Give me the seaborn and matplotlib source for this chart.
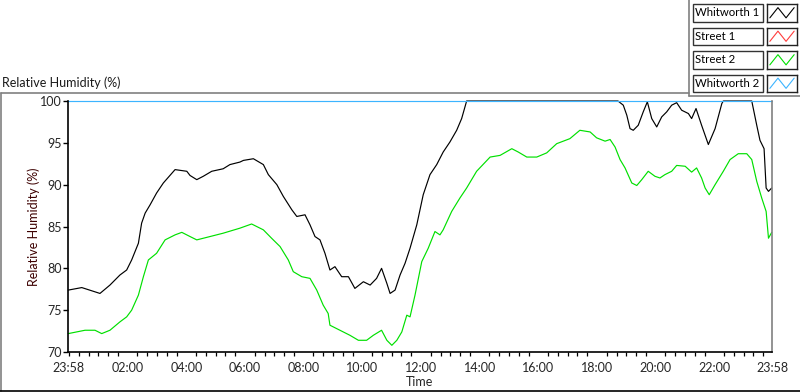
import numpy as np
import pandas as pd
import matplotlib
matplotlib.use("Agg")
import matplotlib.pyplot as plt
import matplotlib.dates as mdates
import matplotlib.ticker as mticker
import seaborn as sns
from matplotlib.lines import Line2D
from matplotlib.patches import Rectangle

# ---------------- data (hours after 23:58, relative humidity %) ----------------
series_names = ["Whitworth 1", "Street 1", "Street 2", "Whitworth 2"]

w1_hours = [0.01, 0.47, 1.09, 1.43, 1.77, 2.00, 2.17, 2.40, 2.51, 2.63, 2.80, 3.02, 3.25, 3.65,
            4.05, 4.16, 4.39, 4.61, 4.90, 5.29, 5.52, 5.86, 5.98, 6.32, 6.66, 6.83, 7.12, 7.34,
            7.63, 7.80, 8.08, 8.25, 8.42, 8.59, 8.76, 8.93, 9.10, 9.33, 9.56, 9.78, 10.07, 10.30,
            10.52, 10.69, 10.87, 10.98, 11.15, 11.32, 11.49, 11.66, 11.89, 12.11, 12.34, 12.57,
            12.79, 13.02, 13.25, 13.42, 13.59, 18.75, 18.93, 19.05, 19.16, 19.27, 19.44, 19.61,
            19.75, 19.90, 20.07, 20.24, 20.41, 20.58, 20.75, 20.92, 21.15, 21.26, 21.41, 21.60,
            21.83, 22.06, 22.29, 22.34, 23.31, 23.48, 23.59, 23.73, 23.80, 23.88, 23.99]
w1_rh = [77.4, 77.7, 77.0, 78.0, 79.2, 79.8, 81.0, 83.0, 85.4, 86.6, 87.6, 89.0, 90.2, 91.8,
         91.6, 91.1, 90.6, 91.0, 91.6, 91.9, 92.4, 92.7, 92.9, 93.1, 92.4, 91.2, 90.0, 88.6,
         87.0, 86.2, 86.4, 85.2, 83.8, 83.4, 81.8, 79.8, 80.2, 79.0, 79.0, 77.6, 78.4, 78.0,
         78.8, 80.0, 78.2, 77.0, 77.4, 79.2, 80.6, 82.4, 85.2, 88.8, 91.2, 92.4,
         93.9, 95.1, 96.5, 97.9, 100.0, 100.0, 99.5, 98.3, 96.7, 96.5, 97.1, 98.7,
         99.9, 97.9, 96.9, 98.1, 98.7, 99.5, 99.8, 98.9, 98.5, 97.9, 99.1, 97.1,
         94.8, 96.7, 99.7, 100.0, 100.0, 97.1, 95.3, 94.3, 89.6, 89.2, 89.6]

s1_hours = []
s1_rh = []

s2_hours = [0.01, 0.58, 0.92, 1.15, 1.43, 1.77, 2.00, 2.17, 2.40, 2.57, 2.74, 3.02, 3.31, 3.65,
            3.88, 4.16, 4.39, 4.73, 5.29, 5.86, 6.26, 6.66, 6.94, 7.23, 7.51, 7.68, 7.97, 8.25,
            8.48, 8.70, 8.87, 8.93, 9.27, 9.61, 9.90, 10.18, 10.41, 10.69, 10.87, 11.04, 11.21,
            11.38, 11.55, 11.66, 11.83, 12.06, 12.28, 12.51, 12.68, 12.79, 13.08, 13.36, 13.59,
            13.93, 14.39, 14.73, 15.13, 15.35, 15.64, 15.98, 16.32, 16.66, 17.11, 17.45, 17.80,
            18.02, 18.31, 18.48, 18.65, 18.82, 18.99, 19.22, 19.39, 19.56, 19.78, 20.01, 20.18,
            20.35, 20.58, 20.75, 21.04, 21.26, 21.43, 21.60, 21.72, 21.86, 22.06, 22.34, 22.57,
            22.85, 23.14, 23.31, 23.48, 23.65, 23.80, 23.88, 23.99]
s2_rh = [72.2, 72.6, 72.6, 72.2, 72.6, 73.6, 74.2, 75.0, 76.8, 79.0, 81.0, 81.8, 83.4, 84.0,
         84.3, 83.8, 83.4, 83.7, 84.2, 84.8, 85.3, 84.6, 83.6, 82.6, 81.0, 79.6, 79.0, 78.8,
         77.4, 75.6, 74.6, 73.2, 72.6, 72.0, 71.4, 71.4, 72.0, 72.6, 71.4, 70.8, 71.4,
         72.4, 74.4, 74.2, 76.8, 80.8, 82.4, 84.4, 84.0, 84.6, 86.8, 88.4, 89.6,
         91.6, 93.3, 93.5, 94.3, 93.9, 93.3, 93.3, 93.8, 94.9, 95.5, 96.5, 96.3,
         95.6, 95.2, 95.4, 94.5, 93.0, 92.0, 90.2, 89.9, 90.6, 91.6, 91.0, 90.8,
         91.2, 91.6, 92.3, 92.2, 91.5, 92.0, 90.8, 89.6, 88.8, 90.0, 91.6, 93.0,
         93.7, 93.7, 93.0, 90.4, 88.4, 86.8, 83.6, 84.3]

w2_hours = [0.0, 24.0]
w2_rh = [100.0, 100.0]

y_ticks = [70, 75, 80, 85, 90, 95, 100]
series_colors = ["#000000", "#ff3c3c", "#00e000", "#3cb4ff"]

# ---------------- build frame ----------------
start = pd.Timestamp("2000-01-01 23:58")
end = start + pd.Timedelta(hours=24)
data = {
    "Whitworth 1": (w1_hours, w1_rh),
    "Street 1": (s1_hours, s1_rh),
    "Street 2": (s2_hours, s2_rh),
    "Whitworth 2": (w2_hours, w2_rh),
}
frames = []
for name in series_names:
    h, v = data[name]
    frames.append(pd.DataFrame({
        "Time": start + pd.to_timedelta(np.asarray(h, dtype=float), unit="h"),
        "RH": np.asarray(v, dtype=float),
        "Series": name,
    }))
df = pd.concat(frames, ignore_index=True)

# ---------------- figure ----------------
sns.set_style("white")
plt.rcParams["font.family"] = ["Lato", "DejaVu Sans"]
plt.rcParams["font.size"] = 9

fig = plt.figure(figsize=(8.0, 3.92), dpi=100)
ax = fig.add_axes([68 / 800, 1 - 352 / 392, (772 - 68) / 800, (352 - 101) / 392])

for name, col in zip(series_names, series_colors):
    sub = df[df["Series"] == name]
    if len(sub) == 0:
        continue
    sns.lineplot(data=sub, x="Time", y="RH", color=col, linewidth=0.85, ax=ax,
                 legend=False, estimator=None, sort=False)
for ln in ax.lines:
    ln.set_clip_on(False)

ax.set_xlim(start, end)
ax.set_ylim(70, 100)
ax.set_yticks(y_ticks)
ax.set_yticklabels([str(t) for t in y_ticks])

major = [start] + [pd.Timestamp("2000-01-02 %02d:00" % hh) for hh in range(2, 23, 2)] + [end]
ax.xaxis.set_major_locator(mticker.FixedLocator(mdates.date2num(major)))
ax.xaxis.set_major_formatter(mdates.DateFormatter("%H:%M"))
ax.xaxis.set_minor_locator(mdates.MinuteLocator(byminute=[0, 20, 40]))

ax.tick_params(axis="x", which="major", direction="out", length=5.5, width=1, color="black",
               labelsize=9, pad=2)
ax.tick_params(axis="x", which="minor", direction="out", length=3.0, width=0.9, color="black",
               bottom=True)
ax.tick_params(axis="y", which="major", direction="out", length=3.6, width=1, color="black",
               labelsize=9, pad=1, left=True)

ax.set_xlabel("Time", fontsize=9, labelpad=1)
ax.set_ylabel("Relative Humidity (%)", fontsize=9, color="#3c0000")
ax.yaxis.set_label_coords((40 - 68) / 704, 0.5)

for s in ["left", "bottom"]:
    ax.spines[s].set_color("black")
    ax.spines[s].set_linewidth(1.2)
ax.spines["right"].set_color("#808080")
ax.spines["right"].set_linewidth(1.2)
ax.spines["top"].set_visible(False)

# chart title
fig.text(2 / 800, 1 - 83 / 392, "Relative Humidity (%)", fontsize=9, ha="left", va="center",
         color="#1a1a1a")

# outer panel frame
def fl(x0, y0, x1, y1, c, lw=1.2):
    fig.add_artist(Line2D([x0 / 800, x1 / 800], [1 - y0 / 392, 1 - y1 / 392], color=c, lw=lw,
                          transform=fig.transFigure))

fl(0.5, 93, 689, 93, "#808080")
fl(0.5, 93, 0.5, 391, "#808080")
fl(0, 391, 800, 391, "#000000")
fl(689, 0, 689, 96, "#808080")
fl(689, 96, 800, 96, "#808080")

# legend panel
box_tops = [4, 27.5, 51, 74.5]
for name, col, top in zip(series_names, series_colors, box_tops):
    h = 17.5
    fig.add_artist(Rectangle((693 / 800, 1 - (top + h) / 392), 70 / 800, h / 392,
                             transform=fig.transFigure, facecolor="white",
                             edgecolor="#333333", lw=1.0))
    fig.text(695 / 800, 1 - (top + h / 2) / 392, name, fontsize=8.2, ha="left", va="center",
             color="black")
    sw = fig.add_axes([767 / 800, 1 - (top + h) / 392, 30 / 800, h / 392])
    sw.plot([0, 1, 2, 3], [0.15, 0.85, 0.15, 0.85], color=col, lw=0.8)
    sw.set_xlim(-0.35, 3.35)
    sw.set_ylim(-0.1, 1.1)
    sw.set_xticks([])
    sw.set_yticks([])
    for s in sw.spines.values():
        s.set_color("#222222")
        s.set_linewidth(1.0)

fig.savefig("out.png", dpi=100)
